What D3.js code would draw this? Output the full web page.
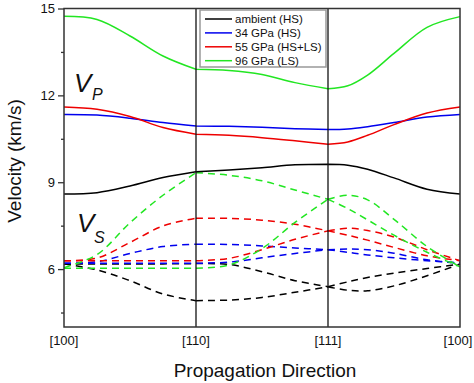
<!DOCTYPE html>
<html><head><meta charset="utf-8">
<script src="https://cdnjs.cloudflare.com/ajax/libs/d3/7.8.5/d3.min.js"></script>
<style>body{margin:0;background:#fff;} svg{display:block;font-family:Arial,"Liberation Sans",sans-serif;}</style>
</head><body><svg id="c" width="474" height="383"></svg>
<script>
// path positions: [100]=0, [110]=1, [111]=2, [100]=3
const pathPos = [0, .25, .5, .75, 1, 1.25, 1.5, 1.75, 2, 2.15, 2.3, 2.5, 2.75, 3];
const directionTicks = [0, 1, 2, 3];
const directionLabels = ["[100]", "[110]", "[111]", "[100]"];
const yTicksMajor = [6, 9, 12, 15];
const yTicksMinor = [4.5, 7.5, 10.5, 13.5];
const seriesNames = ["ambient (HS)", "34 GPa (HS)", "55 GPa (HS+LS)", "96 GPa (LS)"];
const seriesColors = ["#000000", "#0000ee", "#ee0000", "#22e622"];

const vpAmbient = [8.59, 8.64, 8.87, 9.16, 9.36, 9.42, 9.50, 9.60, 9.62, 9.59, 9.45, 9.15, 8.76, 8.59];
const vp34 = [11.34, 11.32, 11.21, 11.06, 10.94, 10.93, 10.90, 10.85, 10.82, 10.84, 10.92, 11.06, 11.25, 11.34];
const vp55 = [11.60, 11.52, 11.27, 10.89, 10.66, 10.62, 10.54, 10.43, 10.31, 10.39, 10.62, 10.99, 11.39, 11.60];
const vp96 = [14.73, 14.62, 14.05, 13.36, 12.90, 12.86, 12.72, 12.44, 12.23, 12.33, 12.70, 13.45, 14.35, 14.72];

const vs1Ambient = [6.18, 5.97, 5.60, 5.14, 4.91, 4.93, 5.02, 5.20, 5.39, 5.27, 5.25, 5.42, 5.77, 6.17];
const vs2Ambient = [6.18, 6.18, 6.18, 6.18, 6.19, 6.16, 5.91, 5.60, 5.39, 5.56, 5.71, 5.86, 6.02, 6.17];
const vs1_34 = [6.20, 6.25, 6.54, 6.78, 6.86, 6.85, 6.80, 6.73, 6.67, 6.69, 6.67, 6.55, 6.32, 6.21];
const vs2_34 = [6.20, 6.20, 6.20, 6.20, 6.20, 6.24, 6.39, 6.54, 6.67, 6.58, 6.49, 6.39, 6.29, 6.21];
const vs1_55 = [6.29, 6.38, 6.92, 7.49, 7.76, 7.75, 7.69, 7.55, 7.32, 7.41, 7.33, 7.11, 6.67, 6.29];
const vs2_55 = [6.29, 6.29, 6.29, 6.29, 6.29, 6.37, 6.67, 7.03, 7.32, 7.17, 7.00, 6.75, 6.46, 6.29];
const vs1_96 = [6.05, 6.50, 7.60, 8.55, 9.33, 9.24, 9.05, 8.73, 8.41, 8.55, 8.39, 7.72, 6.78, 6.08];
const vs2_96 = [6.03, 6.03, 6.03, 6.03, 6.03, 6.14, 6.71, 7.61, 8.41, 8.09, 7.70, 7.17, 6.58, 6.08];

const vpSeries = [vpAmbient, vp34, vp55, vp96];
const vsSeries = [[vs1Ambient, vs2Ambient], [vs1_34, vs2_34], [vs1_55, vs2_55], [vs1_96, vs2_96]];

const svg = d3.select("#c");
const L = 64, R = 460, T = 8.5, B = 327;
const x = d3.scaleLinear().domain([0, 3]).range([L, R]);
const y = d3.scaleLinear().domain([4, 15]).range([B, T]);

// each path segment between corner directions is drawn as its own smooth curve
const segGen = d3.line().x(d => x(d[0])).y(d => y(d[1])).curve(d3.curveCatmullRom.alpha(0.5));
const line = vals => {
  const pts = vals.map((v, i) => [pathPos[i], v]);
  let d = "";
  [[0, 1], [1, 2], [2, 3]].forEach(([a, b]) => {
    const seg = pts.filter(p => p[0] >= a && p[0] <= b);
    d += segGen(seg);
  });
  return d;
};

const g = svg.append("g");
vsSeries.forEach((pair, si) => {
  pair.forEach(vals => {
    g.append("path").attr("d", line(vals)).attr("fill", "none")
      .attr("stroke", seriesColors[si]).attr("stroke-width", 1.5).attr("stroke-dasharray", "7,5");
  });
});
vpSeries.forEach((vals, si) => {
  g.append("path").attr("d", line(vals)).attr("fill", "none")
    .attr("stroke", seriesColors[si]).attr("stroke-width", 1.5);
});

directionTicks.slice(1, 3).forEach(t => {
  svg.append("line").attr("x1", x(t)).attr("x2", x(t)).attr("y1", T).attr("y2", B)
    .attr("stroke", "#111").attr("stroke-width", 1.3);
});

svg.append("rect").attr("x", L).attr("y", T).attr("width", R - L).attr("height", B - T)
  .attr("fill", "none").attr("stroke", "#333").attr("stroke-width", 1.5);

const yAxis = d3.axisLeft(y).tickValues(yTicksMajor).tickSize(6).tickSizeOuter(0).tickFormat(d3.format("d"));
const ya = svg.append("g").attr("transform", `translate(${L},0)`).call(yAxis);
ya.select(".domain").remove();
ya.selectAll(".tick line").attr("stroke", "#333").attr("stroke-width", 1.3);
ya.selectAll(".tick text").attr("font-size", 13).attr("font-family", "Arial, 'Liberation Sans', sans-serif").attr("fill", "#111").attr("x", -9);
const yMinor = d3.axisLeft(y).tickValues(yTicksMinor).tickSize(3).tickFormat("");
const ym = svg.append("g").attr("transform", `translate(${L},0)`).call(yMinor);
ym.select(".domain").remove();
ym.selectAll(".tick line").attr("stroke", "#333").attr("stroke-width", 1.3);

directionTicks.forEach((t, i) => {
  svg.append("text").attr("x", Math.min(x(t), 474 - 16)).attr("y", 345).attr("text-anchor", "middle")
    .attr("font-size", 13).attr("fill", "#111").text(directionLabels[i]);
});

svg.append("text").attr("x", 265).attr("y", 377).attr("text-anchor", "middle").attr("font-size", 19).attr("fill", "#111").text("Propagation Direction");
svg.append("text").attr("transform", "translate(21,161) rotate(-90)").attr("text-anchor", "middle").attr("font-size", 19).attr("fill", "#111").text("Velocity (km/s)");

const lab = (xx, yy, main, sub, subDx, subY) => {
  svg.append("text").attr("x", xx).attr("y", yy).attr("font-size", 26).attr("font-style", "italic").attr("fill", "#111").text(main);
  svg.append("text").attr("x", xx + subDx).attr("y", subY).attr("font-size", 16).attr("font-style", "italic").attr("fill", "#111").text(sub);
};
lab(74, 92, "V", "P", 18, 100);
lab(77, 232, "V", "S", 17, 243);

const lg = svg.append("g");
lg.append("rect").attr("x", 200).attr("y", 10).attr("width", 126).attr("height", 57)
  .attr("fill", "#fff").attr("stroke", "#999").attr("stroke-width", 1.5);
seriesNames.forEach((n, i) => {
  const yy = 19 + i * 13.9;
  lg.append("line").attr("x1", 205).attr("x2", 232).attr("y1", yy).attr("y2", yy)
    .attr("stroke", seriesColors[i]).attr("stroke-width", 1.5);
  lg.append("text").attr("x", 235).attr("y", yy + 4).attr("font-size", 11.5).attr("fill", "#111").text(n);
});
</script></body></html>
